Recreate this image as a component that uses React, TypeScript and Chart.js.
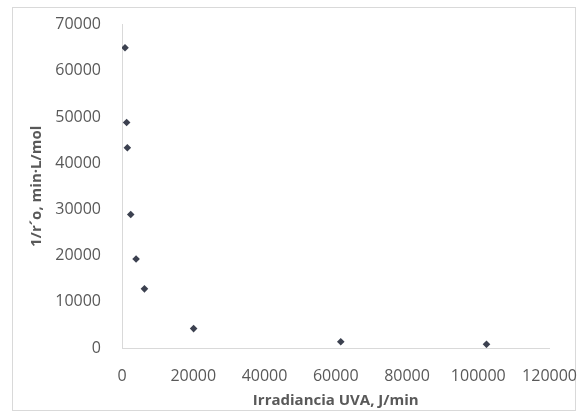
import React, { useEffect, useRef } from "react";
import { Chart, registerables } from "chart.js";

Chart.register(...registerables);

const irradiance = [850, 1300, 1500, 2450, 3950, 6300, 20100, 61400, 102300];
const inverseRate = [65000, 48800, 43350, 28900, 19250, 12800, 4200, 1350, 800];
const xTitle = "Irradiancia UVA, J/min";
const yTitle = "1/r´o, min·L/mol";

export default function App() {
  const ref = useRef<HTMLCanvasElement | null>(null);

  useEffect(() => {
    if (!ref.current) return;
    const font = { family: "'Open Sans', sans-serif", size: 16 };
    const titleFont = { family: "'Open Sans', sans-serif", size: 15, weight: "bold" as const };
    const chart = new Chart(ref.current, {
      type: "scatter",
      data: {
        datasets: [
          {
            data: irradiance.map((x, i) => ({ x, y: inverseRate[i] })),
            pointStyle: "rectRot",
            pointRadius: 3.8,
            backgroundColor: "#3c4150",
            borderColor: "#3c4150",
            borderWidth: 0,
          },
        ],
      },
      options: {
        animation: false,
        responsive: false,
        maintainAspectRatio: false,
        layout: { padding: 0 },
        plugins: { legend: { display: false }, tooltip: { enabled: false } },
        scales: {
          x: {
            type: "linear",
            min: 0,
            max: 120000,
            grid: { display: false, drawTicks: false },
            border: { display: true, color: "#d9d9d9", width: 1 },
            ticks: {
              stepSize: 20000,
              color: "#595959",
              font,
              padding: 19,
              maxRotation: 0,
              callback: (v: any) => String(v),
            },
            title: {
              display: true,
              text: xTitle,
              color: "#595959",
              font: titleFont,
              padding: { top: 4, bottom: 0 },
            },
            afterFit: (s: any) => {
              s.height = 62;
            },
          },
          y: {
            type: "linear",
            min: 0,
            max: 70000,
            grid: { display: false, drawTicks: false },
            border: { display: true, color: "#d9d9d9", width: 1 },
            ticks: {
              stepSize: 10000,
              color: "#595959",
              font,
              padding: 21,
              callback: (v: any) => String(v),
            },
            title: {
              display: true,
              text: yTitle,
              color: "#595959",
              font: titleFont,
              padding: { top: 15, bottom: 0 },
            },
            afterFit: (s: any) => {
              s.width = 109;
            },
          },
        },
      },
    });
    return () => chart.destroy();
  }, []);

  return (
    <div
      style={{
        position: "fixed",
        left: 0,
        top: 0,
        width: 578,
        height: 420,
        background: "#fff",
        overflow: "hidden",
      }}
    >
      <div
        style={{
          position: "absolute",
          left: 12,
          top: 7,
          width: 562,
          height: 402,
          border: "1px solid #d9d9d9",
        }}
      />
      <canvas
        ref={ref}
        width={583}
        height={416}
        style={{ position: "absolute", left: 13, top: -6, display: "block" }}
      />
    </div>
  );
}
